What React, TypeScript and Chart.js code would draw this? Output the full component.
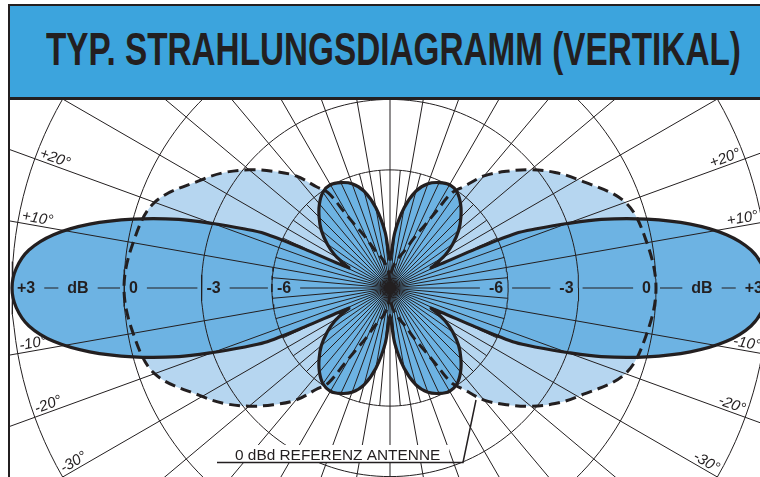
import React, { useEffect, useRef } from "react";
import { Chart, registerables } from "chart.js";

Chart.register(...registerables);

// ---- radial dB scale of the printed diagram (dB -> radius in units of the 0 dB ring)
const SCALE_DB = [-40, -20, -15, -12, -9, -6, -3, 0, 3, 6];
const SCALE_R = [0, 0.05, 0.11, 0.2, 0.31, 0.444, 0.709, 1, 1.421, 2.0];

// ---- rings and tick labels
const RING_DB = [-6, -3, 0, 3];
const RING_LABELS = ["-6", "-3", "0", "+3"];
const UNIT_LABEL = "dB";
const ANGLE_TICKS = [10, 20, -10, -20, -30];
const ANGLE_LABELS = ["+10°", "+20°", "-10°", "-20°", "-30°"];

// ---- antenna pattern (elevation in degrees, relative gain in dB), one quadrant
const MAIN_ELEV = [0, 3, 6, 9, 12, 15, 18, 20, 22, 23.5, 24.5, 26, 28, 31, 35, 40, 45, 50, 55, 60, 65, 70, 75, 80, 85, 88, 90];
const MAIN_DB = [3.0, 2.9, 2.6, 2.0, 1.1, 0.0, -1.7, -3.0, -4.3, -5.2, -8.0, -12.9, -12.0, -10.8, -9.6, -8.4, -7.5, -6.7, -6.1, -5.95, -6.15, -6.6, -7.5, -9.1, -11.7, -14.5, -15.5];

// ---- 0 dBd reference antenna (dipole)
const REF_ELEV = [0, 10, 20, 30, 35, 40, 45, 50, 54, 57, 59, 61, 64, 68, 76, 84, 90];
const REF_DB = [0, -0.2, -0.6, -1.9, -2.5, -3.2, -4.0, -4.8, -5.7, -6.4, -8.5, -10.1, -11.6, -13.5, -15.1, -18.5, -30];

const TITLE = "TYP. STRAHLUNGSDIAGRAMM (VERTIKAL)";
const REF_NOTE = "0 dBd REFERENZ ANTENNE";

const INK = "#231f20";
const LIGHT = "#b6d6f0";
const MID = "#6db3e3";
const BANNER = "#3ca4dd";

const W = 750;
const H = 377;
const CX = 380;
const CY = 188;
const UNIT = 266;

function dbToR(db: number): number {
  if (db <= SCALE_DB[0]) return 0;
  for (let i = 1; i < SCALE_DB.length; i++) {
    if (db <= SCALE_DB[i]) {
      const t = (db - SCALE_DB[i - 1]) / (SCALE_DB[i] - SCALE_DB[i - 1]);
      return SCALE_R[i - 1] + t * (SCALE_R[i] - SCALE_R[i - 1]);
    }
  }
  return SCALE_R[SCALE_R.length - 1];
}

function pt(phiDeg: number, r: number) {
  const a = (phiDeg * Math.PI) / 180;
  return { x: r * Math.cos(a), y: r * Math.sin(a) };
}

function patternPoints(elev: number[], db: number[]) {
  const n = elev.length;
  const pts: { x: number; y: number }[] = [];
  for (let i = n - 1; i >= 0; i--) pts.push(pt(180 - elev[i], dbToR(db[i])));
  for (let i = 1; i < n; i++) pts.push(pt(180 + elev[i], dbToR(db[i])));
  for (let i = n - 2; i >= 0; i--) pts.push(pt(360 - elev[i], dbToR(db[i])));
  for (let i = 1; i < n; i++) pts.push(pt(elev[i], dbToR(db[i])));
  return pts;
}

function ringPoints(db: number) {
  const r = dbToR(db);
  const pts: { x: number; y: number }[] = [];
  for (let d = 0; d <= 360; d += 2) pts.push(pt(d, r));
  return pts;
}

const overlayPlugin = {
  id: "overlay",
  afterDatasetsDraw(chart: any) {
    const ctx: CanvasRenderingContext2D = chart.ctx;
    const xs = chart.scales.x;
    const ys = chart.scales.y;
    const cx = xs.getPixelForValue(0);
    const cy = ys.getPixelForValue(0);
    const unit = xs.getPixelForValue(1) - cx;
    const R = (db: number) => dbToR(db) * unit;
    ctx.save();
    ctx.fillStyle = INK;
    ctx.strokeStyle = INK;

    // horizontal axis with dB labels
    ctx.font = 'bold 16px "Liberation Sans", Arial, sans-serif';
    ctx.textBaseline = "middle";
    ctx.textAlign = "left";
    for (const side of [-1, 1]) {
      const items: { text: string; x0: number; x1: number; c?: boolean }[] = [];
      RING_DB.forEach((db, i) => {
        const w = ctx.measureText(RING_LABELS[i]).width;
        const edge = cx + side * (R(db) - 5);
        const x0 = side < 0 ? edge : edge - w;
        items.push({ text: RING_LABELS[i], x0, x1: x0 + w });
      });
      const wdb = ctx.measureText(UNIT_LABEL).width;
      const mid = cx + side * ((R(0) + R(3)) / 2 - 10);
      items.push({ text: UNIT_LABEL, x0: mid - wdb / 2, x1: mid + wdb / 2 });
      items.sort((a, b) => a.x0 - b.x0);
      items.forEach((it) => ctx.fillText(it.text, it.x0, cy + 1));
      const centre = { text: "", x0: cx, x1: cx, c: true };
      const bounds = side < 0 ? [...items, centre] : [centre, ...items];
      ctx.lineWidth = 1.2;
      ctx.beginPath();
      for (let i = 0; i < bounds.length - 1; i++) {
        const a = bounds[i].x1 + (bounds[i].c ? 0 : 9);
        const b = bounds[i + 1].x0 - (bounds[i + 1].c ? 0 : 9);
        if (b > a) {
          ctx.moveTo(a, cy);
          ctx.lineTo(b, cy);
        }
      }
      ctx.stroke();
    }

    // elevation angle labels
    ctx.font = 'italic 15px "Liberation Sans", Arial, sans-serif';
    ctx.textBaseline = "alphabetic";
    const r0 = R(3) - 3;
    ANGLE_TICKS.forEach((e, i) => {
      const a = (e * Math.PI) / 180;
      ctx.save();
      ctx.translate(cx - r0 * Math.cos(a), cy - r0 * Math.sin(a));
      ctx.rotate(a);
      ctx.textAlign = "left";
      ctx.fillText(ANGLE_LABELS[i], 0, -3);
      ctx.restore();
      ctx.save();
      ctx.translate(cx + r0 * Math.cos(a), cy - r0 * Math.sin(a));
      ctx.rotate(-a);
      ctx.textAlign = "right";
      ctx.fillText(ANGLE_LABELS[i], 0, -3);
      ctx.restore();
    });

    // centre
    ctx.beginPath();
    ctx.arc(cx, cy, 6, 0, Math.PI * 2);
    ctx.fill();

    // reference note with leader (on a white patch)
    ctx.font = '15.4px "Liberation Sans", Arial, sans-serif';
    ctx.textAlign = "left";
    const tw = ctx.measureText(REF_NOTE).width;
    ctx.fillStyle = "#ffffff";
    ctx.fillRect(cx - 162, cy + 157, tw + 16, 18);
    ctx.fillStyle = INK;
    ctx.fillText(REF_NOTE, cx - 155, cy + 172);
    ctx.lineWidth = 1.5;
    ctx.beginPath();
    ctx.moveTo(cx - 173, cy + 174.5);
    ctx.lineTo(cx + 73, cy + 174.5);
    ctx.lineTo(cx + 86, cy + 112);
    ctx.stroke();
    ctx.restore();
  },
};

export default function App() {
  const ref = useRef<HTMLCanvasElement>(null);

  useEffect(() => {
    const mainPts = patternPoints(MAIN_ELEV, MAIN_DB);
    const refPts = patternPoints(REF_ELEV, REF_DB);
    const datasets: any[] = [];

    datasets.push({
      data: refPts, showLine: true, fill: "shape", backgroundColor: LIGHT,
      borderColor: "rgba(0,0,0,0)", borderWidth: 0, tension: 0.35, pointRadius: 0, order: 20,
    });
    datasets.push({
      data: mainPts, showLine: true, fill: "shape", backgroundColor: MID,
      borderColor: "rgba(0,0,0,0)", borderWidth: 0, tension: 0.3, pointRadius: 0, order: 19,
    });
    RING_DB.forEach((db) => {
      datasets.push({
        data: ringPoints(db), showLine: true, fill: false, borderColor: INK,
        borderWidth: 1, tension: 0, pointRadius: 0, order: 10,
      });
    });
    for (let a = 0; a < 360; a += 5) {
      if (a === 0 || a === 180) continue;
      const len = a % 10 === 0 ? 2.2 : dbToR(-6);
      datasets.push({
        data: [pt(a, 0), pt(a, len)], showLine: true, fill: false, borderColor: INK,
        borderWidth: 1, tension: 0, pointRadius: 0, order: 10,
      });
    }
    datasets.push({
      data: refPts, showLine: true, fill: false, borderColor: INK, borderWidth: 3,
      borderDash: [11, 6], tension: 0.35, pointRadius: 0, order: 2,
    });
    datasets.push({
      data: mainPts, showLine: true, fill: false, borderColor: INK, borderWidth: 3.2,
      tension: 0.3, pointRadius: 0, order: 1,
    });

    const chart = new Chart(ref.current as HTMLCanvasElement, {
      type: "scatter",
      data: { datasets },
      options: {
        responsive: false,
        animation: false,
        events: [],
        layout: { padding: 0 },
        scales: {
          x: { type: "linear", min: -CX / UNIT, max: (W - CX) / UNIT, display: false },
          y: { type: "linear", min: -(H - CY) / UNIT, max: CY / UNIT, display: false },
        },
        elements: { point: { radius: 0 }, line: { capBezierPoints: false } },
        plugins: { legend: { display: false }, tooltip: { enabled: false } },
      } as any,
      plugins: [overlayPlugin],
    });
    return () => chart.destroy();
  }, []);

  return (
    <div style={{ position: "absolute", left: 0, top: 0, width: 760, height: 477, overflow: "hidden", background: "#fff" }}>
      <div style={{ position: "absolute", left: 8, top: 4, width: 2, height: 473, background: INK }} />
      <div style={{ position: "absolute", left: 8, top: 4, width: 752, height: 2, background: INK }} />
      <div style={{ position: "absolute", left: 10, top: 6, width: 750, height: 91, background: BANNER }} />
      <div style={{ position: "absolute", left: 10, top: 97, width: 750, height: 3, background: INK }} />
      <div
        style={{
          position: "absolute", left: 46, top: 25.6, fontFamily: '"Liberation Sans", Arial, sans-serif',
          fontWeight: 700, fontSize: 46.5, lineHeight: "46.5px", color: INK, whiteSpace: "nowrap",
          transform: "scaleX(0.716)", transformOrigin: "0 0",
        }}
      >
        {TITLE}
      </div>
      <canvas ref={ref} width={W} height={H} style={{ position: "absolute", left: 10, top: 100, width: W, height: H }} />
    </div>
  );
}
